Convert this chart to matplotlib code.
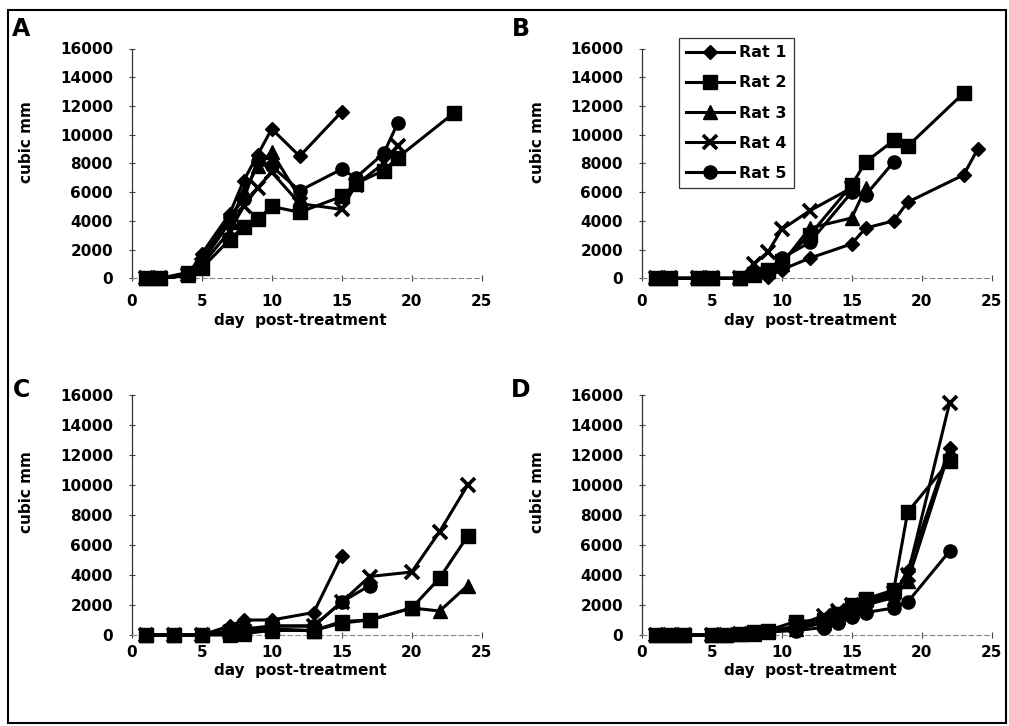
import matplotlib
matplotlib.use("Agg")
import matplotlib.pyplot as plt
from matplotlib.patches import Rectangle

# ---------------- data ----------------
rat_labels = ["Rat 1", "Rat 2", "Rat 3", "Rat 4", "Rat 5"]
panel_letters = ["A", "B", "C", "D"]
x_ticks = [0, 5, 10, 15, 20, 25]
y_ticks = [0, 2000, 4000, 6000, 8000, 10000, 12000, 14000, 16000]

# Panel A
a_days_r1 = [1, 2, 4, 5, 7, 8, 9, 10, 12, 15]
a_vals_r1 = [0, 0, 200, 1700, 4500, 6800, 8600, 10400, 8500, 11600]
a_days_r2 = [1, 2, 4, 5, 7, 8, 9, 10, 12, 15, 16, 18, 19, 23]
a_vals_r2 = [0, 0, 400, 700, 2700, 3600, 4100, 5000, 4600, 5700, 6600, 7500, 8400, 11500]
a_days_r3 = [1, 2, 4, 5, 7, 8, 9, 10, 12]
a_vals_r3 = [0, 0, 200, 1100, 3900, 6000, 7800, 8800, 5600]
a_days_r4 = [1, 2, 4, 5, 7, 8, 9, 10, 12, 15, 16, 18, 19]
a_vals_r4 = [0, 0, 200, 900, 3300, 5000, 6300, 7400, 5200, 4800, 6500, 8000, 9200]
a_days_r5 = [1, 2, 4, 5, 7, 8, 9, 10, 12, 15, 16, 18, 19]
a_vals_r5 = [0, 0, 200, 1300, 4300, 5500, 8200, 7800, 6100, 7600, 7000, 8700, 10800]

# Panel B
b_days_r1 = [1, 2, 4, 5, 7, 8, 9, 10, 12, 15, 16, 18, 19, 23, 24]
b_vals_r1 = [0, 0, 0, 0, 0, 300, 100, 600, 1400, 2400, 3500, 4000, 5300, 7200, 9000]
b_days_r2 = [1, 2, 4, 5, 7, 8, 9, 10, 12, 15, 16, 18, 19, 23]
b_vals_r2 = [0, 0, 0, 0, 0, 300, 600, 1200, 3000, 6500, 8100, 9600, 9200, 12900]
b_days_r3 = [1, 2, 4, 5, 7, 8, 9, 10, 12, 15, 16]
b_vals_r3 = [0, 0, 0, 0, 0, 200, 500, 1000, 3500, 4200, 6300]
b_days_r4 = [1, 2, 4, 5, 7, 8, 9, 10, 12, 15]
b_vals_r4 = [0, 0, 0, 0, 0, 1000, 1800, 3400, 4700, 6300]
b_days_r5 = [1, 2, 4, 5, 7, 8, 9, 10, 12, 15, 16, 18]
b_vals_r5 = [0, 0, 0, 0, 0, 200, 500, 1400, 2500, 6000, 5800, 8100]

# Panel C
c_days_r1 = [1, 3, 5, 7, 8, 10, 13, 15]
c_vals_r1 = [0, 0, 0, 600, 1000, 1000, 1500, 5300]
c_days_r2 = [1, 3, 5, 7, 8, 10, 13, 15, 17, 20, 22, 24]
c_vals_r2 = [0, 0, 0, 100, 200, 400, 300, 900, 1000, 1800, 3800, 6600]
c_days_r3 = [1, 3, 5, 7, 8, 10, 13, 15, 17, 20, 22, 24]
c_vals_r3 = [0, 0, 0, 0, 100, 300, 300, 800, 1000, 1800, 1600, 3300]
c_days_r4 = [1, 3, 5, 7, 8, 10, 13, 15, 17, 20, 22, 24]
c_vals_r4 = [0, 0, 0, 200, 300, 600, 600, 2200, 3900, 4200, 6900, 10000]
c_days_r5 = [1, 3, 5, 7, 8, 10, 13, 15, 17]
c_vals_r5 = [0, 0, 0, 300, 400, 600, 600, 2200, 3300]

# Panel D
d_days = [1, 2, 3, 5, 6, 7, 8, 9, 11, 13, 14, 15, 16, 18, 19, 22]
d_vals_r1 = [0, 0, 0, 0, 0, 50, 100, 200, 500, 1000, 1300, 1800, 2200, 2600, 4300, 12500]
d_vals_r2 = [0, 0, 0, 0, 0, 100, 200, 300, 900, 1000, 1400, 2000, 2400, 3000, 8200, 11600]
d_vals_r3 = [0, 0, 0, 0, 0, 50, 100, 200, 400, 800, 1200, 1600, 2000, 2500, 3600, 12300]
d_vals_r4 = [0, 0, 0, 0, 0, 50, 100, 200, 600, 1300, 1600, 2000, 2300, 2800, 4000, 15500]
d_vals_r5 = [0, 0, 0, 0, 0, 50, 100, 200, 300, 500, 800, 1200, 1500, 1800, 2200, 5600]

panels = [
    [(a_days_r1, a_vals_r1), (a_days_r2, a_vals_r2), (a_days_r3, a_vals_r3),
     (a_days_r4, a_vals_r4), (a_days_r5, a_vals_r5)],
    [(b_days_r1, b_vals_r1), (b_days_r2, b_vals_r2), (b_days_r3, b_vals_r3),
     (b_days_r4, b_vals_r4), (b_days_r5, b_vals_r5)],
    [(c_days_r1, c_vals_r1), (c_days_r2, c_vals_r2), (c_days_r3, c_vals_r3),
     (c_days_r4, c_vals_r4), (c_days_r5, c_vals_r5)],
    [(d_days, d_vals_r1), (d_days, d_vals_r2), (d_days, d_vals_r3),
     (d_days, d_vals_r4), (d_days, d_vals_r5)],
]

# ---------------- style ----------------
W, H = 1009, 726
FONT = "DejaVu Sans"
plt.rcParams["font.family"] = [FONT]
plt.rcParams["font.weight"] = "bold"

markers = [
    dict(marker="D", markersize=7.2),
    dict(marker="s", markersize=10.5),
    dict(marker="^", markersize=10.5),
    dict(marker="x", markersize=9.5, markeredgewidth=2.6),
    dict(marker="o", markersize=9.5),
]

fig = plt.figure(figsize=(W / 100, H / 100), dpi=100)


def fx(px):
    return px / W


def fy(py):
    return 1 - py / H


# axes boxes in pixel coords: (left, zero-line y, right, top y)
boxes = [
    (131.7, 278.3, 481.7, 48.5),
    (641.7, 278.3, 991.7, 48.5),
    (131.7, 635.0, 481.7, 395.0),
    (641.7, 635.0, 991.7, 395.0),
]

letter_pos = [(21, 29), (521, 29), (21, 390), (521, 390)]
ylabel_pos = [(27, 142), (537, 142), (27, 492), (537, 492)]
xlabel_pos = [(300, 321), (810, 321), (300, 671), (810, 671)]
xpads = [9, 9, 5, 5]

axes = []
for i, (l, b, r, t) in enumerate(boxes):
    ax = fig.add_axes([fx(l), fy(b), (r - l) / W, (b - t) / H])
    axes.append(ax)
    for k, (dx, dy) in enumerate(panels[i]):
        ax.plot(dx, dy, color="black", lw=2.2, clip_on=False,
                markerfacecolor="black", markeredgecolor="black",
                label=rat_labels[k], zorder=3, **markers[k])
    ax.set_xlim(0, 25)
    ax.set_ylim(0, 16000)
    ax.set_xticks(x_ticks)
    ax.set_yticks(y_ticks)
    ax.set_xticklabels([str(v) for v in x_ticks], fontweight="bold")
    ax.set_yticklabels([str(v) for v in y_ticks], fontweight="bold")
    ax.tick_params(axis="both", labelsize=11, direction="inout", length=5,
                   width=0.8, color="#444444")
    ax.tick_params(axis="x", pad=xpads[i])
    ax.tick_params(axis="y", pad=11)
    for s in ["top", "right"]:
        ax.spines[s].set_visible(False)
    ax.spines["left"].set_color("#333333")
    ax.spines["left"].set_linewidth(0.9)
    ax.spines["bottom"].set_color("#888888")
    ax.spines["bottom"].set_linewidth(0.8)
    ax.spines["bottom"].set_linestyle((0, (4, 3)))
    ax.patch.set_visible(False)

    lx, ly = letter_pos[i]
    fig.text(fx(lx), fy(ly), panel_letters[i], fontsize=17, fontweight="bold",
             ha="center", va="center")
    yx, yy = ylabel_pos[i]
    fig.text(fx(yx), fy(yy), "cubic mm", fontsize=11, fontweight="bold",
             rotation=90, ha="center", va="center")
    xx, xy = xlabel_pos[i]
    fig.text(fx(xx), fy(xy), "day  post-treatment", fontsize=11,
             fontweight="bold", ha="center", va="center")

# legend in panel B
handles, labels = axes[1].get_legend_handles_labels()
leg = fig.legend(handles, labels, loc="upper left",
                 bbox_to_anchor=(fx(679), fy(38)), frameon=True,
                 fancybox=False, shadow=False,
                 handlelength=3.0, handletextpad=0.3, labelspacing=0.95,
                 borderpad=0.45, borderaxespad=0.0,
                 prop={"weight": "bold", "size": 11.5})
leg.get_frame().set_edgecolor("black")
leg.get_frame().set_linewidth(0.9)

# outer frame
fig.add_artist(Rectangle((fx(8), fy(723)), (1006 - 8) / W, (723 - 10) / H,
                         transform=fig.transFigure, fill=False,
                         edgecolor="black", linewidth=1.5))

fig.savefig("out.png", dpi=100)
